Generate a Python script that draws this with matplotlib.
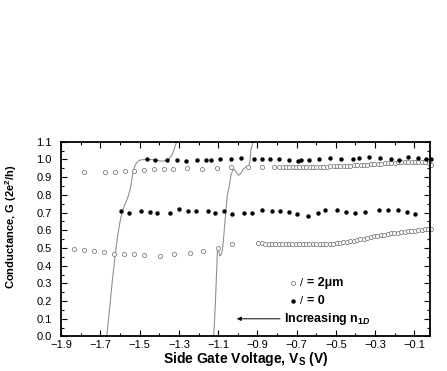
import matplotlib
matplotlib.use("Agg")
import matplotlib.pyplot as plt
from matplotlib.ticker import MultipleLocator, FuncFormatter

plt.rcParams["font.family"] = ["Liberation Sans", "DejaVu Sans"]
plt.rcParams["mathtext.fontset"] = "custom"
plt.rcParams["mathtext.rm"] = "Liberation Sans:bold"
plt.rcParams["mathtext.bf"] = "Liberation Sans:bold"
plt.rcParams["mathtext.it"] = "Liberation Sans:bold:italic"

# l = 2 um, sparse part (upper plateau and lower plateau)
open_hi_v = [-1.786, -1.675, -1.624, -1.573, -1.527, -1.479, -1.428, -1.377,
             -1.329, -1.257, -1.181, -1.104, -1.036, -0.950, -0.874]
open_hi_g = [0.927, 0.927, 0.929, 0.932, 0.936, 0.942, 0.946, 0.946,
             0.947, 0.951, 0.947, 0.953, 0.955, 0.955, 0.957]

open_lo_v = [-1.834, -1.782, -1.731, -1.680, -1.629, -1.581, -1.527, -1.476,
             -1.399, -1.326, -1.246, -1.176, -1.101, -1.027]
open_lo_g = [0.492, 0.488, 0.482, 0.477, 0.467, 0.467, 0.466, 0.462,
             0.456, 0.464, 0.471, 0.482, 0.499, 0.522]

# l = 2 um, dense part
dense_hi_v = [-0.815, -0.79, -0.772, -0.755, -0.738, -0.72, -0.703, -0.686, -0.668, -0.651,
              -0.634, -0.616, -0.599, -0.582, -0.564, -0.547, -0.53, -0.512, -0.495, -0.478,
              -0.46, -0.443, -0.426, -0.408, -0.391, -0.374, -0.356, -0.339, -0.322, -0.304,
              -0.287, -0.27, -0.252, -0.235, -0.218, -0.2, -0.183, -0.166, -0.148, -0.131,
              -0.114, -0.096, -0.079, -0.062, -0.044, -0.027, -0.015]
dense_hi_g = [0.957, 0.956, 0.957, 0.958, 0.956, 0.958, 0.957, 0.958, 0.959, 0.957,
              0.958, 0.959, 0.958, 0.960, 0.959, 0.960, 0.961, 0.961, 0.962, 0.962,
              0.964, 0.963, 0.965, 0.966, 0.967, 0.968, 0.970, 0.971, 0.973, 0.974,
              0.976, 0.977, 0.979, 0.978, 0.981, 0.982, 0.984, 0.983, 0.986, 0.985,
              0.987, 0.986, 0.985, 0.986, 0.983, 0.978, 0.968]

dense_lo_v = [-0.896, -0.879, -0.86, -0.843, -0.826, -0.808, -0.791, -0.774, -0.756, -0.739,
              -0.722, -0.704, -0.687, -0.67, -0.652, -0.635, -0.618, -0.6, -0.583, -0.566,
              -0.548, -0.531, -0.514, -0.496, -0.479, -0.462, -0.444, -0.427, -0.41, -0.392,
              -0.375, -0.358, -0.34, -0.323, -0.306, -0.288, -0.271, -0.254, -0.236, -0.219,
              -0.202, -0.184, -0.167, -0.15, -0.132, -0.115, -0.098, -0.08, -0.063, -0.046,
              -0.028, -0.015]
dense_lo_g = [0.530, 0.529, 0.524, 0.521, 0.520, 0.521, 0.520, 0.521, 0.522, 0.521,
              0.522, 0.523, 0.522, 0.522, 0.523, 0.524, 0.523, 0.522, 0.523, 0.524,
              0.523, 0.524, 0.525, 0.527, 0.529, 0.531, 0.534, 0.537, 0.540, 0.544,
              0.548, 0.552, 0.557, 0.562, 0.566, 0.569, 0.573, 0.576, 0.579, 0.582,
              0.585, 0.587, 0.589, 0.591, 0.594, 0.596, 0.598, 0.601, 0.603, 0.605,
              0.606, 0.607]

# l = 0
fill_hi_v = [-1.462, -1.423, -1.363, -1.308, -1.266, -1.206, -1.164, -1.138, -1.091, -1.036,
             -0.985, -0.917, -0.874, -0.835, -0.789, -0.738, -0.695, -0.678, -0.636, -0.585,
             -0.528, -0.474, -0.414, -0.380, -0.329, -0.273, -0.218, -0.176, -0.133, -0.082,
             -0.039, -0.013]
fill_hi_g = [1.002, 0.998, 0.998, 0.998, 0.993, 0.995, 0.995, 0.998, 1.002, 1.004,
             1.006, 1.004, 1.004, 1.004, 1.004, 0.998, 0.993, 0.996, 0.998, 1.002,
             1.008, 1.004, 1.004, 1.008, 1.012, 1.008, 1.004, 0.998, 1.012, 1.008,
             1.004, 1.004]

fill_mid_v = [-1.595, -1.556, -1.493, -1.449, -1.414, -1.346, -1.300, -1.254, -1.215, -1.150,
              -1.118, -1.070, -1.027, -0.968, -0.925, -0.874, -0.826, -0.784, -0.741, -0.700,
              -0.644, -0.593, -0.554, -0.494, -0.448, -0.400, -0.349, -0.281, -0.235, -0.184,
              -0.138, -0.095]
fill_mid_g = [0.710, 0.699, 0.710, 0.705, 0.695, 0.699, 0.718, 0.710, 0.708, 0.707,
              0.699, 0.710, 0.692, 0.695, 0.695, 0.714, 0.710, 0.708, 0.705, 0.690,
              0.680, 0.699, 0.714, 0.714, 0.701, 0.699, 0.705, 0.714, 0.714, 0.714,
              0.701, 0.690]

# calculated curves (grey lines)
curve1_v = [-1.668, -1.655, -1.64, -1.625, -1.612, -1.60, -1.59, -1.578, -1.566, -1.556,
            -1.547, -1.538, -1.53, -1.522, -1.51, -1.496, -1.47, -1.44, -1.41, -1.385,
            -1.365, -1.35, -1.334, -1.317, -1.308]
curve1_g = [0.0, 0.14, 0.31, 0.46, 0.573, 0.65, 0.70, 0.74, 0.77, 0.80,
            0.84, 0.90, 0.945, 0.97, 0.988, 0.997, 1.0, 0.999, 0.995, 0.99,
            0.993, 1.005, 1.027, 1.083, 1.11]

curve2_v = [-1.123, -1.117, -1.111, -1.106, -1.103, -1.098, -1.092, -1.085, -1.078, -1.072,
            -1.066, -1.06, -1.053, -1.045, -1.035, -1.027, -1.018, -1.008, -0.997, -0.985,
            -0.972, -0.958, -0.945, -0.938, -0.934, -0.925, -0.917]
curve2_g = [0.0, 0.12, 0.28, 0.42, 0.50, 0.49, 0.455, 0.46, 0.49, 0.56,
            0.64, 0.72, 0.80, 0.84, 0.91, 0.935, 0.945, 0.93, 0.91, 0.92,
            0.945, 0.958, 0.96, 0.99, 1.046, 1.09, 1.12]

fig = plt.figure(figsize=(4.47, 3.71), dpi=100)
ax = fig.add_axes([0.137, 0.093, 0.825, 0.525])

line_col = "#909090"
ax.plot(curve1_v, curve1_g, color=line_col, lw=0.8)
ax.plot(curve2_v, curve2_g, color=line_col, lw=0.8)

open_kw = dict(ls="none", marker="o", ms=3.0, mfc="white", mec="#808080", mew=0.6, clip_on=False)
fill_kw = dict(ls="none", marker="o", ms=2.8, mfc="black", mec="black", mew=0.3, clip_on=False)
ax.plot(open_hi_v, open_hi_g, **open_kw)
ax.plot(open_lo_v, open_lo_g, **open_kw)
ax.plot(dense_hi_v, dense_hi_g, **open_kw)
ax.plot(dense_lo_v, dense_lo_g, **open_kw)
ax.plot(fill_hi_v, fill_hi_g, **fill_kw)
ax.plot(fill_mid_v, fill_mid_g, **fill_kw)

# key
ax.plot([-0.72], [0.3], **open_kw)
ax.plot([-0.72], [0.2], **fill_kw)
ax.text(-0.685, 0.3, "/", fontsize=8, va="center", ha="left")
ax.text(-0.685, 0.2, "/", fontsize=8, va="center", ha="left")
ax.text(-0.645, 0.3, "= 2\u03bcm", fontsize=9, fontweight="bold", va="center", ha="left")
ax.text(-0.645, 0.2, "= 0", fontsize=9, fontweight="bold", va="center", ha="left")
ax.annotate("", xy=(-1.005, 0.1), xytext=(-0.785, 0.1),
            arrowprops=dict(arrowstyle="-|>", color="black", lw=0.7,
                            mutation_scale=6, shrinkA=0, shrinkB=0))
ax.text(-0.762, 0.1, "Increasing n$_{1D}$", fontsize=9, fontweight="bold",
        va="center", ha="left")

ax.set_xlim(-1.9, -0.02)
ax.set_ylim(0.0, 1.1)
ax.set_xticks([-1.9, -1.7, -1.5, -1.3, -1.1, -0.9, -0.7, -0.5, -0.3, -0.1])
ax.xaxis.set_minor_locator(MultipleLocator(0.1))
ax.yaxis.set_major_locator(MultipleLocator(0.1))
ax.yaxis.set_minor_locator(MultipleLocator(0.05))
fmt = FuncFormatter(lambda v, p: ("%.1f" % v).replace("-", "\u2212"))
ax.xaxis.set_major_formatter(fmt)
ax.yaxis.set_major_formatter(fmt)
ax.tick_params(which="both", direction="in", top=True, right=True, labelsize=8, width=0.8)
ax.tick_params(which="major", length=4)
ax.tick_params(which="minor", length=2)
ax.tick_params(axis="y", pad=7)
ax.tick_params(axis="x", pad=2.5)
for s in ax.spines.values():
    s.set_linewidth(1.3)

ax.set_xlabel("Side Gate Voltage, V$_\\mathregular{S}$ (V)", fontsize=10, fontweight="bold", labelpad=0)
ax.set_ylabel("Conductance, G (2e$^\\mathregular{2}$/h)", fontsize=8, fontweight="bold")
ax.yaxis.set_label_coords(-0.115, 0.565)

fig.savefig("out.png", dpi=100)
